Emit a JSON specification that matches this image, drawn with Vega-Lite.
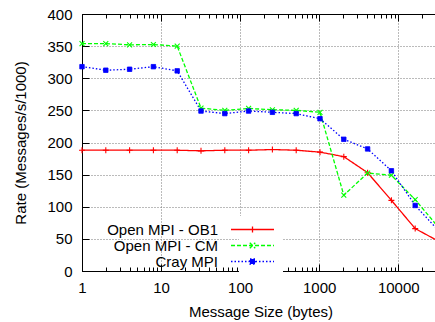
{
  "$schema": "https://vega.github.io/schema/vega-lite/v6.json",
  "width": 357,
  "height": 257,
  "autosize": {"type": "none"},
  "padding": {"left": 82, "top": 14, "right": 0, "bottom": 51},
  "background": "white",
  "config": {
    "view": {"stroke": "black", "strokeWidth": 1},
    "font": "Liberation Sans",
    "axis": {
      "labelFont": "Liberation Sans",
      "labelFontSize": 15,
      "labelColor": "black",
      "titleFont": "Liberation Sans",
      "titleFontSize": 15,
      "titleFontWeight": "normal",
      "titleColor": "black",
      "domainColor": "black",
      "tickColor": "black"
    }
  },
  "data": {
    "values": [
      {"size": 1, "rate": 188, "series": "Open MPI - OB1"},
      {"size": 2, "rate": 188, "series": "Open MPI - OB1"},
      {"size": 4, "rate": 188, "series": "Open MPI - OB1"},
      {"size": 8, "rate": 188, "series": "Open MPI - OB1"},
      {"size": 16, "rate": 188, "series": "Open MPI - OB1"},
      {"size": 32, "rate": 187, "series": "Open MPI - OB1"},
      {"size": 64, "rate": 188, "series": "Open MPI - OB1"},
      {"size": 128, "rate": 188, "series": "Open MPI - OB1"},
      {"size": 256, "rate": 189, "series": "Open MPI - OB1"},
      {"size": 512, "rate": 188, "series": "Open MPI - OB1"},
      {"size": 1024, "rate": 185, "series": "Open MPI - OB1"},
      {"size": 2048, "rate": 178, "series": "Open MPI - OB1"},
      {"size": 4096, "rate": 153, "series": "Open MPI - OB1"},
      {"size": 8192, "rate": 110, "series": "Open MPI - OB1"},
      {"size": 16384, "rate": 66, "series": "Open MPI - OB1"},
      {"size": 32768, "rate": 46, "series": "Open MPI - OB1"},
      {"size": 1, "rate": 354, "series": "Open MPI - CM"},
      {"size": 2, "rate": 354, "series": "Open MPI - CM"},
      {"size": 4, "rate": 352, "series": "Open MPI - CM"},
      {"size": 8, "rate": 352.5, "series": "Open MPI - CM"},
      {"size": 16, "rate": 350, "series": "Open MPI - CM"},
      {"size": 32, "rate": 253.5, "series": "Open MPI - CM"},
      {"size": 64, "rate": 250, "series": "Open MPI - CM"},
      {"size": 128, "rate": 253, "series": "Open MPI - CM"},
      {"size": 256, "rate": 251, "series": "Open MPI - CM"},
      {"size": 512, "rate": 250, "series": "Open MPI - CM"},
      {"size": 1024, "rate": 247, "series": "Open MPI - CM"},
      {"size": 2048, "rate": 118, "series": "Open MPI - CM"},
      {"size": 4096, "rate": 152.5, "series": "Open MPI - CM"},
      {"size": 8192, "rate": 149, "series": "Open MPI - CM"},
      {"size": 16384, "rate": 111, "series": "Open MPI - CM"},
      {"size": 32768, "rate": 67, "series": "Open MPI - CM"},
      {"size": 1, "rate": 318, "series": "Cray MPI"},
      {"size": 2, "rate": 312.5, "series": "Cray MPI"},
      {"size": 4, "rate": 314, "series": "Cray MPI"},
      {"size": 8, "rate": 318, "series": "Cray MPI"},
      {"size": 16, "rate": 311.5, "series": "Cray MPI"},
      {"size": 32, "rate": 249, "series": "Cray MPI"},
      {"size": 64, "rate": 245, "series": "Cray MPI"},
      {"size": 128, "rate": 249, "series": "Cray MPI"},
      {"size": 256, "rate": 247, "series": "Cray MPI"},
      {"size": 512, "rate": 245, "series": "Cray MPI"},
      {"size": 1024, "rate": 237, "series": "Cray MPI"},
      {"size": 2048, "rate": 205, "series": "Cray MPI"},
      {"size": 4096, "rate": 190, "series": "Cray MPI"},
      {"size": 8192, "rate": 156, "series": "Cray MPI"},
      {"size": 16384, "rate": 102, "series": "Cray MPI"},
      {"size": 32768, "rate": 62, "series": "Cray MPI"}
    ]
  },
  "resolve": {"axis": {"x": "independent", "y": "independent"}},
  "layer": [
    {
      "mark": {"type": "line", "strokeWidth": 1.3},
      "encoding": {
        "x": {
          "field": "size",
          "type": "quantitative",
          "scale": {"type": "log", "domain": [1, 32768], "nice": false},
          "axis": {
            "orient": "bottom",
            "values": [1, 10, 100, 1000, 10000],
            "format": "d",
            "grid": true,
            "gridDash": [1, 2],
            "gridColor": "#777777",
            "gridOpacity": {"condition": {"test": "datum.value == 1", "value": 0}, "value": 1},
            "ticks": false,
            "labelFlush": false,
            "labelPadding": 9,
            "title": "Message Size (bytes)",
            "titlePadding": 9
          }
        },
        "y": {
          "field": "rate",
          "type": "quantitative",
          "scale": {"domain": [0, 400], "nice": false},
          "axis": {
            "orient": "left",
            "values": [0, 50, 100, 150, 200, 250, 300, 350, 400],
            "grid": true,
            "gridDash": [1, 2],
            "gridColor": "#777777",
            "gridOpacity": {"condition": {"test": "datum.value == 0 || datum.value == 400", "value": 0}, "value": 1},
            "ticks": false,
            "labelPadding": 10,
            "title": "Rate (Messages/s/1000)",
            "titlePadding": 18
          }
        },
        "color": {
          "field": "series",
          "type": "nominal",
          "scale": {"domain": ["Open MPI - OB1", "Open MPI - CM", "Cray MPI"], "range": ["#ff0000", "#00ff00", "#0000ff"]},
          "legend": {
            "orient": "none",
            "legendX": 157,
            "legendY": 202,
            "title": null,
            "labelFont": "Liberation Sans",
            "labelFontSize": 15,
            "labelColor": "black",
            "labelAlign": "right",
            "labelOffset": -42,
            "labelLimit": 400,
            "symbolSize": 100,
            "symbolStrokeWidth": 1.3,
            "rowPadding": 0,
            "padding": 6,
            "fillColor": "white",
            "encode": {
              "symbols": {
                "update": {
                  "shape": {"signal": "datum.value === 'Open MPI - OB1' ? 'M-4.3,0H4.3M0,-0.6V0.6' : datum.value === 'Open MPI - CM' ? 'M-4.3,0H4.3M-0.55,-0.55L0.55,0.55M-0.55,0.55L0.55,-0.55' : 'M-4.3,0H4.3M-0.5,-0.5H0.5V0.5H-0.5Z'"},
                  "fill": {"signal": "datum.value === 'Cray MPI' ? '#0000ff' : 'transparent'"}
                }
              }
            }
          }
        },
        "strokeDash": {
          "field": "series",
          "type": "nominal",
          "scale": {"domain": ["Open MPI - OB1", "Open MPI - CM", "Cray MPI"], "range": [[1, 0], [4, 2], [1.5, 2]]},
          "legend": {
            "orient": "none",
            "legendX": 157,
            "legendY": 202,
            "title": null,
            "labelFont": "Liberation Sans",
            "labelFontSize": 15,
            "labelColor": "black",
            "labelAlign": "right",
            "labelOffset": -42,
            "labelLimit": 400,
            "symbolSize": 100,
            "symbolStrokeWidth": 1.3,
            "rowPadding": 0,
            "padding": 6,
            "fillColor": "white",
            "encode": {
              "symbols": {
                "update": {
                  "shape": {"signal": "datum.value === 'Open MPI - OB1' ? 'M-4.3,0H4.3M0,-0.6V0.6' : datum.value === 'Open MPI - CM' ? 'M-4.3,0H4.3M-0.55,-0.55L0.55,0.55M-0.55,0.55L0.55,-0.55' : 'M-4.3,0H4.3M-0.5,-0.5H0.5V0.5H-0.5Z'"},
                  "fill": {"signal": "datum.value === 'Cray MPI' ? '#0000ff' : 'transparent'"}
                }
              }
            }
          }
        }
      }
    },
    {
      "transform": [{"filter": "datum.series === 'Open MPI - OB1'"}],
      "mark": {"type": "point", "shape": "M-1,0H1M0,-1V1", "size": 36, "filled": false, "stroke": "#ff0000", "strokeWidth": 1.1, "opacity": 1},
      "encoding": {
        "x": {"field": "size", "type": "quantitative", "axis": null},
        "y": {"field": "rate", "type": "quantitative", "axis": null}
      }
    },
    {
      "transform": [{"filter": "datum.series === 'Open MPI - CM'"}],
      "mark": {"type": "point", "shape": "M-0.9,-0.9L0.9,0.9M-0.9,0.9L0.9,-0.9", "size": 30, "filled": false, "stroke": "#00ff00", "strokeWidth": 1.1, "opacity": 1},
      "encoding": {
        "x": {"field": "size", "type": "quantitative", "axis": null},
        "y": {"field": "rate", "type": "quantitative", "axis": null}
      }
    },
    {
      "transform": [{"filter": "datum.series === 'Cray MPI'"}],
      "mark": {"type": "point", "shape": "square", "size": 20, "filled": true, "fill": "#0000ff", "stroke": "#0000ff", "strokeWidth": 0.8, "opacity": 1},
      "encoding": {
        "x": {"field": "size", "type": "quantitative", "axis": null},
        "y": {"field": "rate", "type": "quantitative", "axis": null}
      }
    },
    {
      "mark": {"type": "point", "opacity": 0},
      "encoding": {
        "x": {
          "field": "size",
          "type": "quantitative",
          "axis": {
            "orient": "bottom",
            "values": [1, 2, 3, 4, 5, 6, 7, 8, 9, 10, 20, 30, 40, 50, 60, 70, 80, 90, 100, 200, 300, 400, 500, 600, 700, 800, 900, 1000, 2000, 3000, 4000, 5000, 6000, 7000, 8000, 9000, 10000, 20000, 30000],
            "labels": false,
            "domain": false,
            "grid": false,
            "ticks": true,
            "tickSize": {"condition": {"test": "indexof([1, 10, 100, 1000, 10000], datum.value) >= 0", "value": -7}, "value": -4},
            "title": null
          }
        },
        "y": {
          "field": "rate",
          "type": "quantitative",
          "axis": {
            "orient": "left",
            "values": [0, 50, 100, 150, 200, 250, 300, 350, 400],
            "labels": false,
            "domain": false,
            "grid": false,
            "ticks": true,
            "tickSize": -7,
            "title": null
          }
        }
      }
    },
    {
      "mark": {"type": "point", "opacity": 0},
      "encoding": {
        "x": {
          "field": "size",
          "type": "quantitative",
          "axis": {
            "orient": "top",
            "values": [1, 2, 3, 4, 5, 6, 7, 8, 9, 10, 20, 30, 40, 50, 60, 70, 80, 90, 100, 200, 300, 400, 500, 600, 700, 800, 900, 1000, 2000, 3000, 4000, 5000, 6000, 7000, 8000, 9000, 10000, 20000, 30000],
            "labels": false,
            "domain": false,
            "grid": false,
            "ticks": true,
            "tickSize": {"condition": {"test": "indexof([1, 10, 100, 1000, 10000], datum.value) >= 0", "value": -7}, "value": -4},
            "title": null
          }
        },
        "y": {"field": "rate", "type": "quantitative", "axis": null}
      }
    }
  ]
}
